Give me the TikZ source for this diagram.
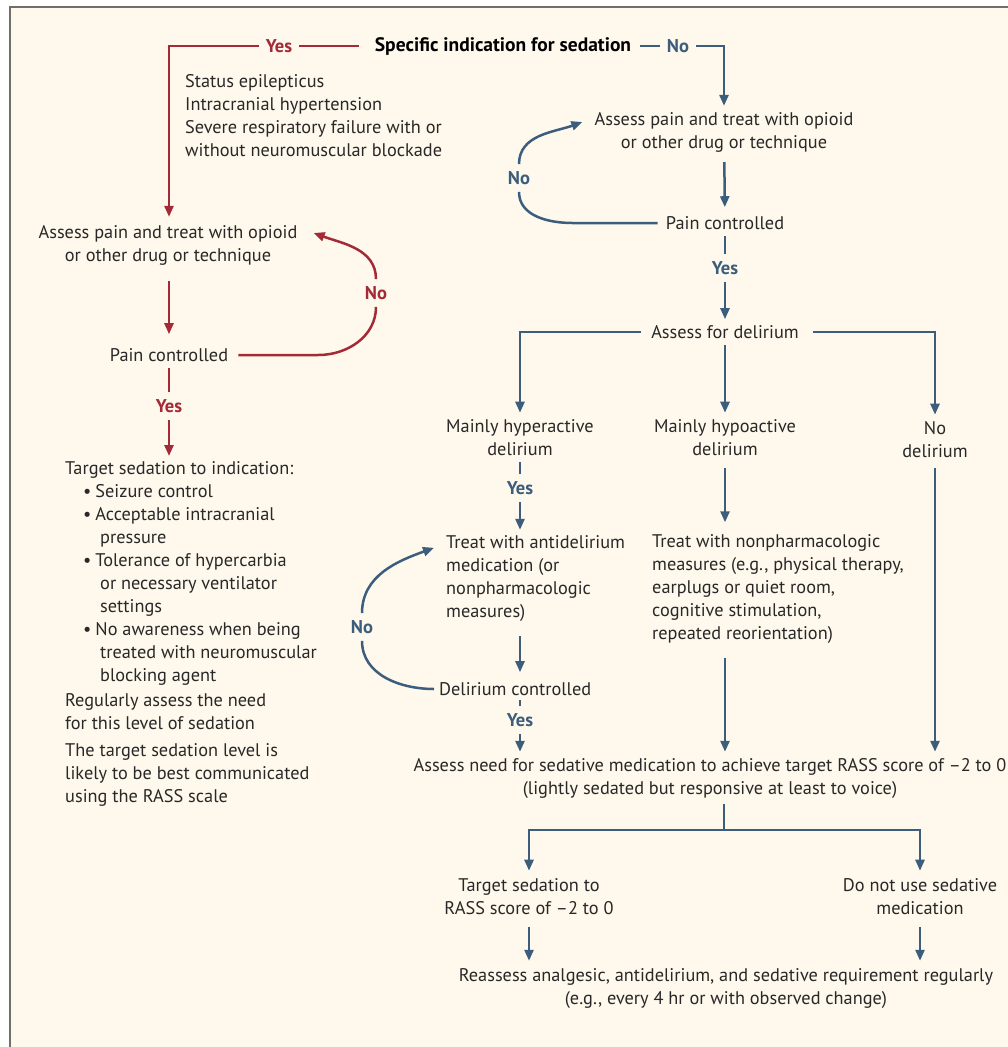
\documentclass[tikz,border=0pt]{standalone}
\usepackage{fontspec}
\setmainfont{PT Sans}
\definecolor{flowred}{RGB}{163,42,54}
\definecolor{flowblue}{RGB}{60,94,124}
\definecolor{flowtext}{RGB}{40,40,40}
\definecolor{flowcream}{RGB}{254,249,236}
\definecolor{flowframe}{RGB}{112,112,106}
\usetikzlibrary{arrows.meta, positioning, calc}
\newcommand{\flowfont}{\fontsize{18.3}{23}\selectfont}
\tikzset{
  flowtxt/.style={text=flowtext, font=\flowfont, inner sep=0pt, align=center},
  flowleft/.style={flowtxt, align=left},
  redlabel/.style={text=flowred, font=\fontsize{18.5}{23}\selectfont\bfseries, inner sep=7pt},
  bluelabel/.style={text=flowblue, font=\fontsize{18.5}{23}\selectfont\bfseries, inner sep=7pt},
  redline/.style={draw=flowred, line width=2.5pt},
  blueline/.style={draw=flowblue, line width=2.5pt},
  flowtip/.style={-{Triangle[length=11pt,width=9pt]}}
}

\begin{document}
\begin{tikzpicture}[x=1pt,y=-1pt]
  \useasboundingbox (0,0) rectangle (1008,1047);
  \fill[white] (0,0) rectangle (1008,1047);
  \fill[flowcream] (10,7) rectangle (1008,1047);
  \draw[flowframe, line width=2pt] (10,1047) -- (10,7) -- (1008,7);

  \node[flowtxt, font=\fontsize{19.5}{23}\selectfont\bfseries, text=black] (spec) at (503,46) {Specific indication for sedation};
  \node[redlabel] (yesTop) at (279,46) {Yes};
  \node[bluelabel] (noTop) at (678,46) {No};
  \node[flowleft, anchor=west] (indic) at (185,116) {Status epilepticus\\Intracranial hypertension\\Severe respiratory failure with or\\without neuromuscular blockade};

  % indication present
  \node[flowtxt] (painL) at (168,245) {Assess pain and treat with opioid\\or other drug or technique};
  \node[flowtxt] (ctrlL) at (169,355) {Pain controlled};
  \node[redlabel] (yesL) at (169,406) {Yes};
  \node[redlabel] (noL) at (376,293) {No};
  \node[flowleft, anchor=north west] (target) at (65,461) {Target sedation to indication:\\
    \hspace*{18pt}•\hspace{4pt}Seizure control\\
    \hspace*{18pt}•\hspace{4pt}Acceptable intracranial\\
    \hspace*{35pt}pressure\\
    \hspace*{18pt}•\hspace{4pt}Tolerance of hypercarbia\\
    \hspace*{35pt}or necessary ventilator\\
    \hspace*{35pt}settings\\
    \hspace*{18pt}•\hspace{4pt}No awareness when being\\
    \hspace*{35pt}treated with neuromuscular\\
    \hspace*{35pt}blocking agent\\[2pt]
    Regularly assess the need\\
    for this level of sedation\\[4pt]
    The target sedation level is\\
    likely to be best communicated\\
    using the RASS scale};

  % no indication
  \node[flowtxt] (painR) at (724,132) {Assess pain and treat with opioid\\or other drug or technique};
  \node[flowtxt] (ctrlR) at (725,223) {Pain controlled};
  \node[bluelabel] (yesR) at (725,268) {Yes};
  \node[bluelabel] (noR) at (519,178) {No};
  \node[flowtxt] (delir) at (725,332) {Assess for delirium};
  \node[flowtxt] (hyper) at (520,438) {Mainly hyperactive\\delirium};
  \node[flowtxt] (hypo) at (725,438) {Mainly hypoactive\\delirium};
  \node[flowtxt] (nodel) at (935,440) {No\\delirium};
  \node[bluelabel] (yesH) at (520,488) {Yes};
  \node[flowleft, anchor=west] (antid) at (446,579) {Treat with antidelirium\\medication (or\\nonpharmacologic\\measures)};
  \node[flowtxt, anchor=west] (dctrl) at (439,689) {Delirium controlled};
  \node[bluelabel] (yesD) at (520,720) {Yes};
  \node[bluelabel] (noD) at (362,627) {No};
  \node[flowleft, anchor=west] (nonph) at (652,589) {Treat with nonpharmacologic\\measures (e.g., physical therapy,\\earplugs or quiet room,\\cognitive stimulation,\\repeated reorientation)};
  \node[flowtxt] (sedneed) at (710,778) {Assess need for sedative medication to achieve target RASS score of –2 to 0\\(lightly sedated but responsive at least to voice)};
  \coordinate (split) at (724,830);
  \node[flowtxt] (tgtRass) at (529,897) {Target sedation to\\RASS score of –2 to 0};
  \node[flowtxt] (nosed) at (920,897) {Do not use sedative\\medication};
  \node[flowtxt] (reass) at (726,989) {Reassess analgesic, antidelirium, and sedative requirement regularly\\(e.g., every 4 hr or with observed change)};

  % red connectors
  \draw[redline, shorten <=16pt] (spec.west) -- (yesTop.east);
  \draw[redline, flowtip, shorten >=8pt] (yesTop.west) -| (ctrlL |- painL.north);
  \draw[redline, flowtip, shorten <=16pt, shorten >=14pt] (ctrlL |- painL.south) -- (ctrlL);
  \draw[redline, shorten <=6pt] (ctrlL) -- (yesL);
  \draw[redline, flowtip, shorten >=5pt] (yesL) -- (yesL |- target.north);
  \draw[redline] ([xshift=10pt]ctrlL.east) -- ++(80,0) to[out=0,in=-90] (noL.south);
  \draw[redline, flowtip] (noL.north) to[out=90,in=-20] ($(painL.east)+(16,-12)$);

  % blue connectors
  \draw[blueline, shorten <=9pt] (spec.east) -- (noTop.west);
  \draw[blueline, flowtip, shorten >=6pt] (noTop.east) -| (painR.north);
  \draw[blueline, flowtip, shorten <=10pt, shorten >=9pt] (painR) -- (ctrlR);
  \draw[blueline, shorten <=6pt] (ctrlR) -- (yesR);
  \draw[blueline, flowtip, shorten >=6pt] (yesR) -- (delir);
  \draw[blueline] ([xshift=-8pt]ctrlR.west) -- ++(-85,0) to[out=180,in=-90] (noR.south);
  \draw[blueline, flowtip] (noR.north) to[out=90,in=200] ($(painR.west)+(-12,-10)$);
  \draw[blueline, flowtip, shorten <=10pt, shorten >=7pt] (delir.west) -| (hyper.north);
  \draw[blueline, flowtip, shorten <=6pt, shorten >=7pt] (delir) -- (hypo);
  \draw[blueline, flowtip, shorten <=14pt, shorten >=7pt] (delir.east) -| (nodel.north);
  \draw[blueline, shorten <=6pt] (hyper) -- (yesH);
  \draw[blueline, flowtip, shorten >=6pt] (yesH) -- (yesH |- antid.north);
  \draw[blueline, flowtip, shorten <=14pt, shorten >=10pt] (yesH |- antid.south) -- (yesH |- dctrl.north);
  \draw[blueline, shorten <=4pt] (dctrl.south -| yesD) -- (yesD);
  \draw[blueline, flowtip, shorten >=6pt] (yesD) -- (yesD |- sedneed.north);
  \draw[blueline] ([xshift=-5pt]dctrl.west) to[out=180,in=-90] (noD.south);
  \draw[blueline, flowtip] (noD.north) to[out=90,in=200] ($(antid.north west)+(-12,12)$);
  \draw[blueline, flowtip, shorten <=12pt, shorten >=12pt] (hypo.south) -- (hypo.south |- nonph.north);
  \draw[blueline, flowtip, shorten <=14pt, shorten >=6pt] (hypo |- nonph.south) -- (hypo |- sedneed.north);
  \draw[blueline, flowtip, shorten <=10pt, shorten >=6pt] (nodel.south) -- (nodel |- sedneed.north);
  \draw[blueline, shorten <=6pt] (sedneed.south -| split) -- (split);
  \draw[blueline, flowtip, shorten >=8pt] (split) -| (tgtRass.north);
  \draw[blueline, flowtip, shorten >=8pt] (split) -| (nosed.north);
  \draw[blueline, flowtip, shorten <=12pt, shorten >=8pt] (tgtRass.south) -- (tgtRass.south |- reass.north);
  \draw[blueline, flowtip, shorten <=12pt, shorten >=8pt] (nosed.south) -- (nosed.south |- reass.north);
\end{tikzpicture}
\end{document}
